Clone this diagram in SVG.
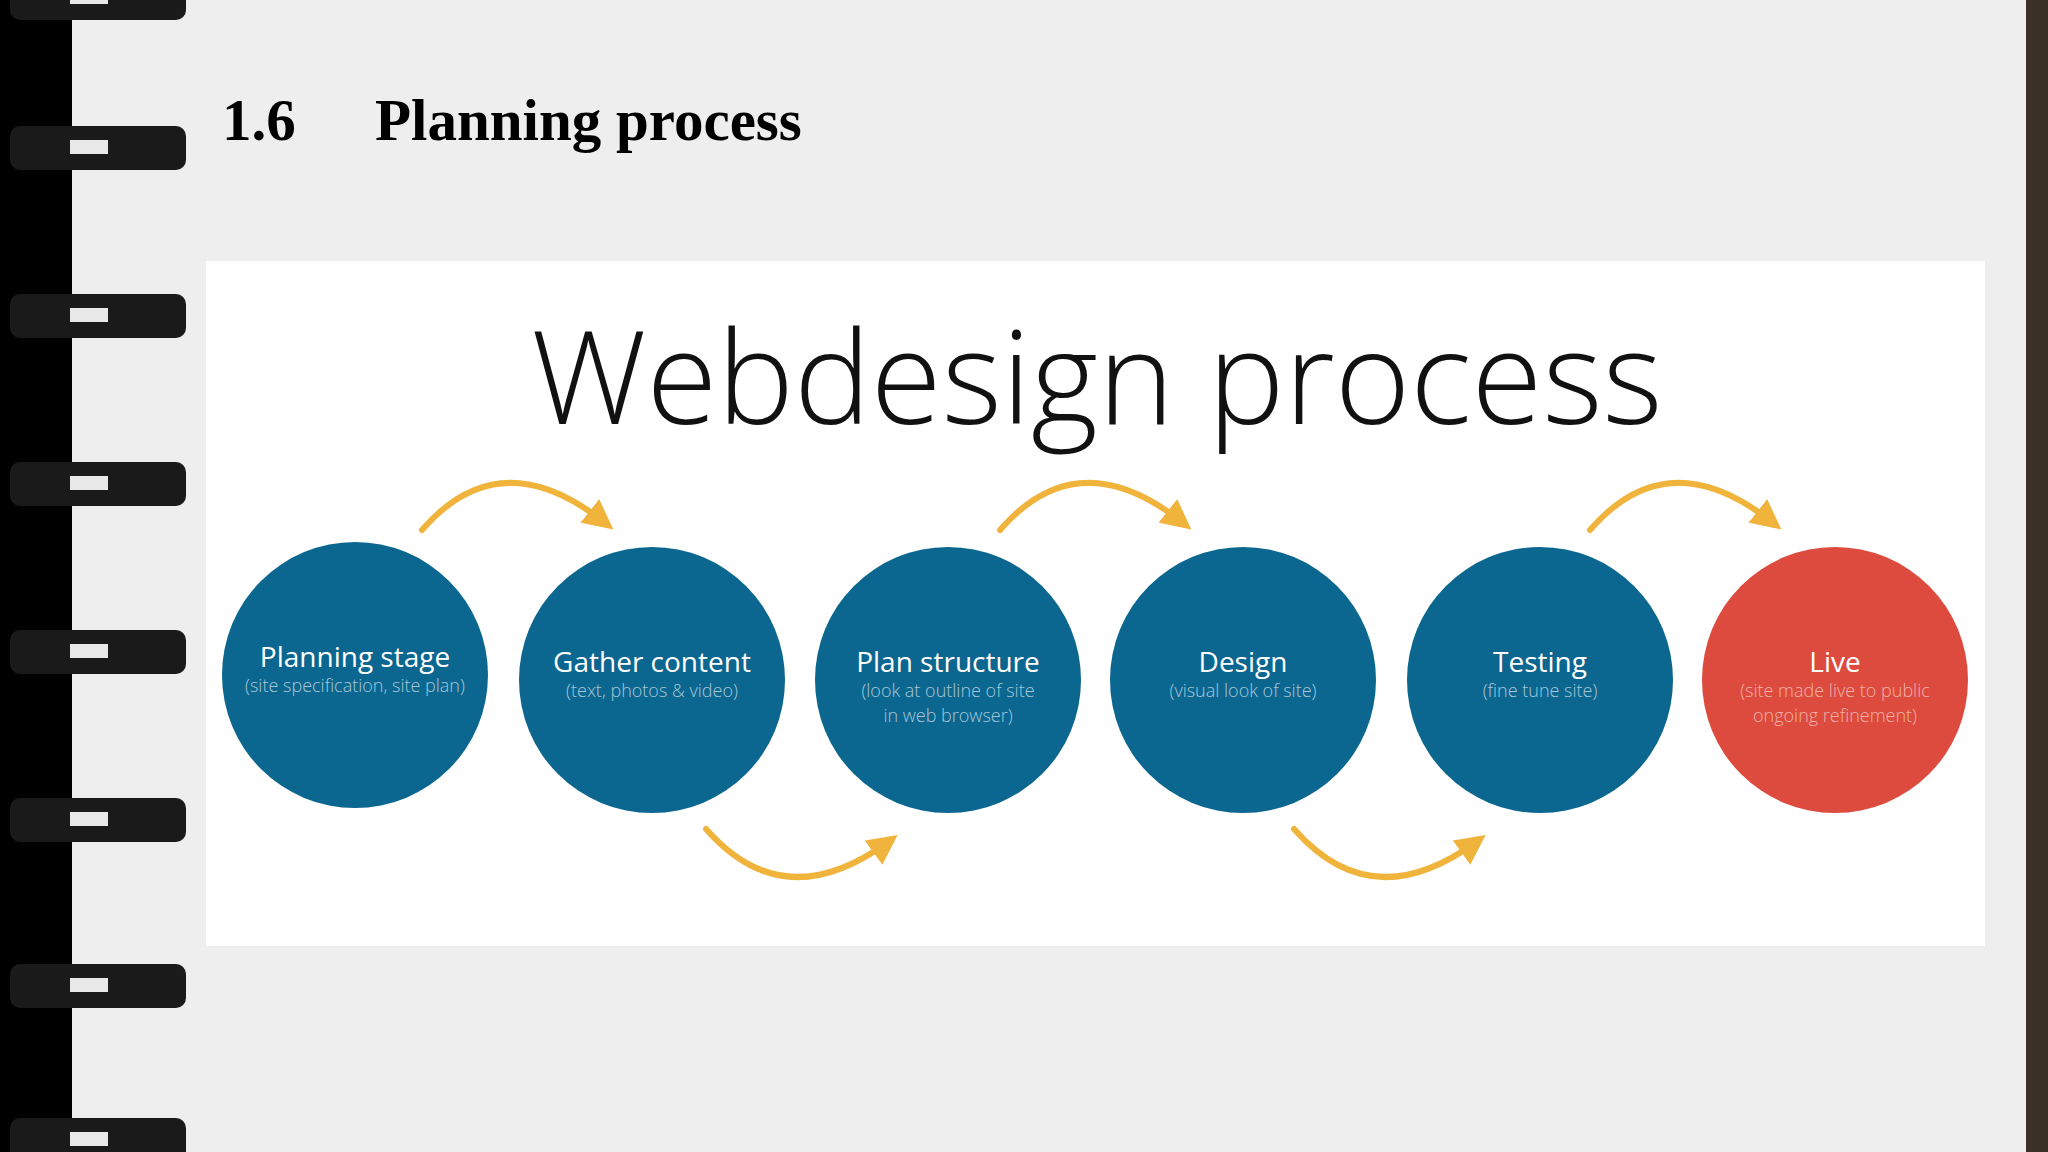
<svg xmlns="http://www.w3.org/2000/svg" width="2048" height="1152" viewBox="0 0 2048 1152">
<defs>
<style>
.ring{fill:#1a1a1a}
.rh{fill:#e8e8e8}
.c{fill:#0b6690}
.t{font-family:"Open Sans","Liberation Sans",sans-serif;fill:#fff;text-anchor:middle;font-size:28px}
.s{font-family:"Open Sans","Liberation Sans",sans-serif;fill:#a8c6d8;text-anchor:middle;font-size:18px;font-weight:300}
.a{fill:none;stroke:#f0b43c;stroke-width:6;stroke-linecap:round}
</style>
<marker id="ah" viewBox="0 0 10 10" refX="6" refY="5" markerWidth="5" markerHeight="5" orient="auto"><path d="M0,0 L10,5 L0,10 z" fill="#f0b43c"/></marker>
<g id="ringdef"><rect x="10" y="-14" width="176" height="44" rx="10" class="ring"/><rect x="70" y="0" width="38" height="14" class="rh"/></g>
</defs>
<rect width="2048" height="1152" fill="#eeeeee"/>
<rect x="0" y="0" width="72" height="1152" fill="#000"/>
<rect x="2026" y="0" width="22" height="1152" fill="#3a3028"/>
<use href="#ringdef" y="-10"/><use href="#ringdef" y="140"/><use href="#ringdef" y="308"/><use href="#ringdef" y="476"/><use href="#ringdef" y="644"/><use href="#ringdef" y="812"/><use href="#ringdef" y="978"/><use href="#ringdef" y="1132"/>
<text x="222" y="140" font-family="Liberation Serif,serif" font-weight="bold" font-size="59" fill="#000">1.6</text>
<text x="375" y="140" font-family="Liberation Serif,serif" font-weight="bold" font-size="59" fill="#000">Planning process</text>
<rect x="206" y="261" width="1779" height="685" fill="#fff"/>
<text x="1097" y="424" font-family="Open Sans,Liberation Sans,sans-serif" font-weight="300" font-size="129" fill="#111" text-anchor="middle">Webdesign process</text>
<g id="connectors">
<path class="a" d="M422,530 Q500,440 604,522" marker-end="url(#ah)"/>
<path class="a" d="M1000,530 Q1078,440 1182,522" marker-end="url(#ah)"/>
<path class="a" d="M1590,530 Q1668,440 1772,522" marker-end="url(#ah)"/>
<path class="a" d="M706,829 Q784,918 888,842" marker-end="url(#ah)"/>
<path class="a" d="M1294,829 Q1372,918 1476,842" marker-end="url(#ah)"/>
</g>
<g id="n1"><circle class="c" cx="355" cy="675" r="133"/><text class="t" x="355" y="667">Planning stage</text><text class="s" x="355" y="692">(site specification, site plan)</text></g>
<g id="n2"><circle class="c" cx="652" cy="680" r="133"/><text class="t" x="652" y="672">Gather content</text><text class="s" x="652" y="697">(text, photos &amp; video)</text></g>
<g id="n3"><circle class="c" cx="948" cy="680" r="133"/><text class="t" x="948" y="672">Plan structure</text><text class="s" x="948" y="697">(look at outline of site</text><text class="s" x="948" y="722">in web browser)</text></g>
<g id="n4"><circle class="c" cx="1243" cy="680" r="133"/><text class="t" x="1243" y="672">Design</text><text class="s" x="1243" y="697">(visual look of site)</text></g>
<g id="n5"><circle class="c" cx="1540" cy="680" r="133"/><text class="t" x="1540" y="672">Testing</text><text class="s" x="1540" y="697">(fine tune site)</text></g>
<g id="n6"><circle cx="1835" cy="680" r="133" fill="#dc4b3e"/><text class="t" x="1835" y="672">Live</text><text class="s" x="1835" y="697" style="fill:#f0b0a8">(site made live to public</text><text class="s" x="1835" y="722" style="fill:#f0b0a8">ongoing refinement)</text></g>
</svg>
